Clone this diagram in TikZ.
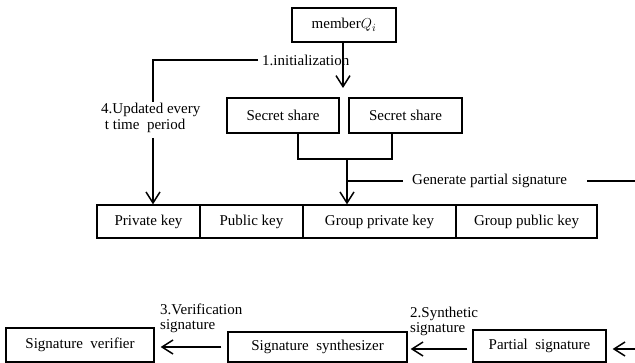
\documentclass[tikz,border=0pt]{standalone}
\usepackage{fontspec}
\setmainfont{Liberation Serif}
\usetikzlibrary{arrows.meta}
\begin{document}
\begin{tikzpicture}[x=1pt,y=-1pt,
  box/.style={draw, line width=1.3pt, inner sep=0pt, font=\fontsize{15}{18}\selectfont},
  lbl/.style={inner sep=0pt, font=\fontsize{15}{18}\selectfont},
  conn/.style={line width=1.5pt},
  arr/.style={line width=1.5pt, -{Straight Barb[length=11pt,width=14pt,line width=1.5pt]}}]
\useasboundingbox (0,0) rectangle (635,363);
% top
\node[box, minimum width=104pt, minimum height=34pt] (mem) at (344,25) {member$Q_i$};
\node[box, minimum width=112pt, minimum height=35pt] (ss1) at (283,115.5) {Secret share};
\node[box, minimum width=113pt, minimum height=35pt] (ss2) at (405.5,115.5) {Secret share};
% key row
\node[box, minimum width=103pt, minimum height=33pt] (k1) at (148.5,221.5) {Private key};
\node[box, minimum width=103pt, minimum height=33pt] (k2) at (251.5,221.5) {Public key};
\node[box, minimum width=153pt, minimum height=33pt] (k3) at (379.5,221.5) {Group private key};
\node[box, minimum width=141pt, minimum height=33pt] (k4) at (526.5,221.5) {Group public key};
% bottom row
\node[box, minimum width=148pt, minimum height=34pt] (ver) at (80,345) {Signature\ \ verifier};
\node[box, minimum width=179pt, minimum height=30pt] (syn) at (317.5,347) {Signature\ \ synthesizer};
\node[box, minimum width=133pt, minimum height=32pt] (par) at (539.5,346) {Partial\ \ signature};
% labels
\node[lbl, anchor=west] (init) at (262,60) {1.initialization};
\node[lbl, align=left, anchor=north west] (upd) at (101,103) {4.Updated every\\[-2pt]\ t time\ \ period};
\node[lbl, anchor=west] (gen) at (412,181) {Generate partial signature};
\node[lbl, align=left, anchor=south west] (ver3) at (160,333) {3.Verification\\[-3pt]signature};
\node[lbl, align=left, anchor=south west] (syn2) at (410,336) {2.Synthetic\\[-3pt]signature};
% coordinates
\coordinate (c1) at (153,60);
\coordinate (c2) at (153,102);
\coordinate (c3) at (153,138);
\coordinate (m1) at (343,88);
\coordinate (j1) at (298,159);
\coordinate (j2) at (392,159);
\coordinate (j3) at (347,159);
\coordinate (j4) at (347,181);
\coordinate (g1) at (403,181);
\coordinate (g2) at (587,181);
\coordinate (g3) at (636,181);
\coordinate (r1) at (636,349);
% connectors
\draw[arr] (mem.south -| m1) -- (m1);
\draw[conn] ([xshift=-4pt]init.west) -- (c1) -- (c2);
\draw[arr] (c3) -- (k1.north -| c3);
\draw[conn] (ss1.south -| j1) -- (j1) -- (j2) -- (ss2.south -| j2);
\draw[arr] (j3) -- (k3.north -| j3);
\draw[conn] (j4) -- (g1);
\draw[conn] (g2) -- (g3);
\draw[arr] (r1) -- ([xshift=6pt]par.east |- r1);
\draw[arr] ([xshift=-5pt]par.west |- 0,349) -- ([xshift=3pt]syn.east |- 0,349);
\draw[arr] ([xshift=-6pt]syn.west |- 0,347) -- ([xshift=6pt]ver.east |- 0,347);
\end{tikzpicture}
\end{document}
